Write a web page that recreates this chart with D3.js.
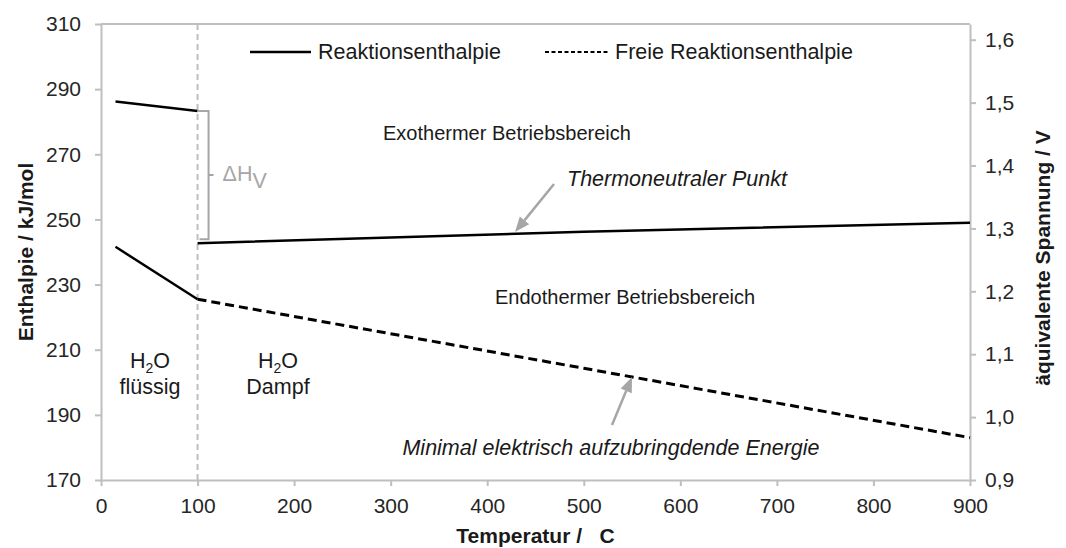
<!DOCTYPE html>
<html>
<head>
<meta charset="utf-8">
<script src="https://cdn.jsdelivr.net/npm/d3@7"></script>
<style>
  body { margin: 0; background: #fff; }
  svg { font-family: "Liberation Sans", Arial, sans-serif; }
  .axis text { font-size: 21px; fill: #262626; }
  .axis line, .axis path { stroke: #bfbfbf; stroke-width: 2; }
</style>
</head>
<body>
<div class="chart"></div>
<script>
// data
const tempLiquid = [15, 100];
const enthalpyLiquid = [286.2, 283.3];
const freeLiquid = [241.6, 225.5];

const tempGas = [100, 500, 900];
const enthalpyGas = [242.7, 246.2, 249.0];
const freeGas = [225.5, 204.3, 183.0];

const xTicks = [0, 100, 200, 300, 400, 500, 600, 700, 800, 900];
const yTicks = [170, 190, 210, 230, 250, 270, 290, 310];
const vTicks = [0.9, 1.0, 1.1, 1.2, 1.3, 1.4, 1.5, 1.6];

const W = 1066, H = 548;
const margin = { top: 24, right: 96, bottom: 68, left: 101 };
const fs = 21.5;

const svg = d3.select('.chart')
  .append('svg')
  .attr('width', W)
  .attr('height', H);

const x = d3.scaleLinear().domain([0, 900]).range([margin.left, W - margin.right]);
const y = d3.scaleLinear().domain([170, 310]).range([H - margin.bottom, margin.top]);
const yV = d3.scaleLinear().domain([0.9, 1.625]).range([H - margin.bottom, margin.top]);

const comma = d => d3.format('.1f')(d).replace('.', ',');

// frame (top line)
svg.append('line')
  .attr('x1', x(0)).attr('x2', x(900))
  .attr('y1', y(310)).attr('y2', y(310))
  .attr('stroke', '#bfbfbf').attr('stroke-width', 2);

// axes
svg.append('g')
  .attr('class', 'axis')
  .attr('transform', `translate(0,${y(170)})`)
  .call(d3.axisBottom(x).tickValues(xTicks).tickSize(6).tickSizeOuter(0).tickPadding(12));

svg.append('g')
  .attr('class', 'axis')
  .attr('transform', `translate(${x(0)},0)`)
  .call(d3.axisLeft(y).tickValues(yTicks).tickSize(6).tickSizeOuter(0).tickPadding(14));

svg.append('g')
  .attr('class', 'axis')
  .attr('transform', `translate(${x(900)},0)`)
  .call(d3.axisRight(yV).tickValues(vTicks).tickSize(6).tickSizeOuter(0).tickPadding(9).tickFormat(comma));

// phase boundary at 100 C
svg.append('line')
  .attr('x1', x(100)).attr('x2', x(100))
  .attr('y1', y(310)).attr('y2', y(170))
  .attr('stroke', '#bfbfbf')
  .attr('stroke-width', 2)
  .attr('stroke-dasharray', '6,4');

// lines
const line = d3.line().x(d => x(d[0])).y(d => y(d[1]));
const pairs = (t, v) => t.map((d, i) => [d, v[i]]);

svg.append('path')
  .attr('d', line(pairs(tempLiquid, enthalpyLiquid)))
  .attr('fill', 'none').attr('stroke', '#000').attr('stroke-width', 2.5);
svg.append('path')
  .attr('d', line(pairs(tempGas, enthalpyGas)))
  .attr('fill', 'none').attr('stroke', '#000').attr('stroke-width', 2.5);
svg.append('path')
  .attr('d', line(pairs(tempLiquid, freeLiquid)))
  .attr('fill', 'none').attr('stroke', '#000').attr('stroke-width', 2.5);
svg.append('path')
  .attr('d', line(pairs(tempGas, freeGas)))
  .attr('fill', 'none').attr('stroke', '#000').attr('stroke-width', 3)
  .attr('stroke-dasharray', '9,5');

// delta H_V bracket
const bx = x(100) + 11;
const yTop = y(enthalpyLiquid[1]);
const yBot = y(enthalpyGas[0]) - 4;
svg.append('path')
  .attr('d', `M${x(100)},${yTop} H${bx} V${yBot} H${x(100) + 2} M${bx},${(yTop + yBot) / 2} h5`)
  .attr('fill', 'none').attr('stroke', '#a6a6a6').attr('stroke-width', 2);
const dh = svg.append('text')
  .attr('x', bx + 14).attr('y', (yTop + yBot) / 2 + 6)
  .attr('font-size', fs).attr('fill', '#a6a6a6');
dh.append('tspan').text('ΔH');
dh.append('tspan').attr('dy', 7).text('V');

// arrows
const arrow = (x1, y1, x2, y2) => {
  const a = Math.atan2(y2 - y1, x2 - x1), L = 15, w = 6;
  const bx2 = x2 - L * Math.cos(a), by2 = y2 - L * Math.sin(a);
  svg.append('line')
    .attr('x1', x1).attr('y1', y1).attr('x2', bx2).attr('y2', by2)
    .attr('stroke', '#a6a6a6').attr('stroke-width', 2.5);
  svg.append('path')
    .attr('d', `M${x2},${y2} L${bx2 + w * Math.sin(a)},${by2 - w * Math.cos(a)} L${bx2 - w * Math.sin(a)},${by2 + w * Math.cos(a)} Z`)
    .attr('fill', '#a6a6a6');
};
arrow(554, 184, 515, 232);
arrow(612, 425, 632, 377);

// annotation texts
const label = (tx, ty, str, opts = {}) => svg.append('text')
  .attr('x', tx).attr('y', ty)
  .attr('font-size', opts.size || fs)
  .attr('fill', '#1a1a1a')
  .attr('text-anchor', opts.anchor || 'start')
  .attr('font-style', opts.italic ? 'italic' : 'normal')
  .text(str);

label(383, 140, 'Exothermer Betriebsbereich', { size: 20 });
label(495, 304, 'Endothermer Betriebsbereich', { size: 20 });
label(567, 186, 'Thermoneutraler Punkt', { italic: true });
label(611, 455, 'Minimal elektrisch aufzubringdende Energie', { italic: true, anchor: 'middle' });

const h2o = (cx, cy, sub) => {
  const t = svg.append('text').attr('x', cx).attr('y', cy)
    .attr('font-size', fs).attr('fill', '#1a1a1a').attr('text-anchor', 'middle');
  t.append('tspan').text('H');
  t.append('tspan').attr('font-size', 14).attr('dy', 5).text('2');
  t.append('tspan').attr('dy', -5).text('O');
  label(cx, cy + 26, sub, { anchor: 'middle' });
};
h2o(150, 368, 'flüssig');
h2o(278, 368, 'Dampf');

// legend
svg.append('line')
  .attr('x1', 250).attr('x2', 311).attr('y1', 52).attr('y2', 52)
  .attr('stroke', '#000').attr('stroke-width', 2.5);
label(318, 59, 'Reaktionsenthalpie');
svg.append('line')
  .attr('x1', 545).attr('x2', 610).attr('y1', 52).attr('y2', 52)
  .attr('stroke', '#000').attr('stroke-width', 2.2)
  .attr('stroke-dasharray', '4,2.5');
label(615, 59, 'Freie Reaktionsenthalpie');

// axis titles
svg.append('text')
  .attr('x', (x(0) + x(900)) / 2).attr('y', 543)
  .attr('text-anchor', 'middle')
  .attr('font-size', 21).attr('font-weight', 'bold').attr('fill', '#1a1a1a')
  .style('white-space', 'pre')
  .text('Temperatur /   C');

svg.append('text')
  .attr('transform', `translate(33,${(y(170) + y(310)) / 2}) rotate(-90)`)
  .attr('text-anchor', 'middle')
  .attr('font-size', 21).attr('font-weight', 'bold').attr('fill', '#1a1a1a')
  .text('Enthalpie / kJ/mol');

svg.append('text')
  .attr('transform', `translate(1050,${(y(170) + y(310)) / 2 + 6}) rotate(-90)`)
  .attr('text-anchor', 'middle')
  .attr('font-size', 21).attr('font-weight', 'bold').attr('fill', '#1a1a1a')
  .text('äquivalente Spannung / V');
</script>
</body>
</html>
